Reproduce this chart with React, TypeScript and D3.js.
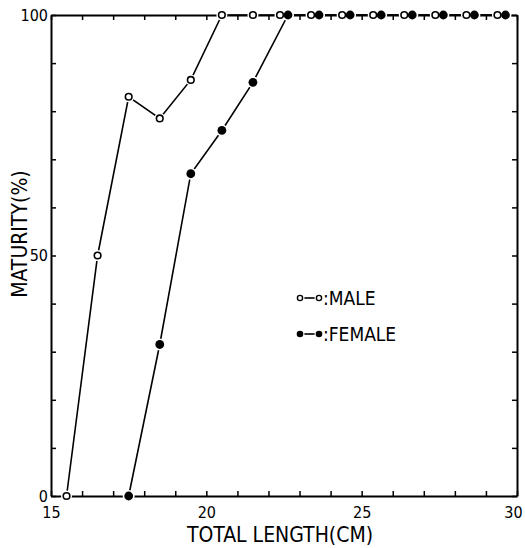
import { useEffect, useRef } from "react"
import * as d3 from "d3"

// male maturity by total length
const maleLength = [15.5, 16.5, 17.5, 18.5, 19.5, 20.5, 21.5, 22.5, 23.5, 24.5, 25.5, 26.5, 27.5, 28.5, 29.5]
const maleMaturity = [0, 50, 83, 78.5, 86.5, 100, 100, 100, 100, 100, 100, 100, 100, 100, 100]

// female maturity by total length
const femaleLength = [17.5, 18.5, 19.5, 20.5, 21.5, 22.5, 23.5, 24.5, 25.5, 26.5, 27.5, 28.5, 29.5]
const femaleMaturity = [0, 31.5, 67, 76, 86, 100, 100, 100, 100, 100, 100, 100, 100]

const xTicks = d3.range(15, 31, 1)
const xLabels = [15, 20, 25, 30]
const yTicks = d3.range(0, 101, 10)
const yLabels = [0, 50, 100]

const FONT = "'DejaVu Sans Condensed', 'Liberation Sans Narrow', sans-serif"

const Chart = ({
  svgWidth = 525,
  svgHeight = 548,
  left = 51,
  right = 517,
  top = 15,
  bottom = 496,
}) => {
  const svgRef = useRef(null)

  useEffect(() => {
    const svg = d3.select(svgRef.current)
      .attr("viewBox", [0, 0, svgWidth, svgHeight])
      .attr("font-family", FONT)
    svg.selectAll("*").remove()

    const x = d3.scaleLinear().domain([15, 30]).range([left, right])
    const y = d3.scaleLinear().domain([0, 100]).range([bottom, top])

    const male = maleLength.map((l, i) => ({ l, m: maleMaturity[i] }))
    const female = femaleLength.map((l, i) => ({ l, m: femaleMaturity[i] }))

    // dodge points that overlap at 100%
    const both = (l) => maleLength.includes(l) && femaleLength.includes(l) &&
      maleMaturity[maleLength.indexOf(l)] === 100 && femaleMaturity[femaleLength.indexOf(l)] === 100
    const mx = d => x(d.l) - (both(d.l) ? 4 : 0)
    const fx = d => x(d.l) + (both(d.l) ? 4 : 0)

    const styleAxis = g => g
      .call(g => g.select(".domain").attr("stroke-width", 2))
      .call(g => g.selectAll(".tick line").attr("stroke-width", 1.5))
      .call(g => g.selectAll("text").attr("font-size", 16).attr("font-family", FONT).attr("fill", "#000"))

    // bottom axis
    svg.append("g")
      .attr("transform", `translate(0,${bottom})`)
      .call(d3.axisBottom(x).tickValues(xTicks).tickSizeInner(-5).tickSizeOuter(0).tickPadding(11)
        .tickFormat(d => xLabels.includes(d) ? String(d) : ""))
      .call(styleAxis)
      .call(g => g.selectAll(".tick text").filter(d => d === 30).attr("dx", -4))

    // top axis
    svg.append("g")
      .attr("transform", `translate(0,${top})`)
      .call(d3.axisTop(x).tickValues(xTicks).tickSizeInner(-5).tickSizeOuter(0).tickFormat(() => ""))
      .call(styleAxis)

    // left axis
    svg.append("g")
      .attr("transform", `translate(${left},0)`)
      .call(d3.axisLeft(y).tickValues(yTicks).tickSizeInner(-5).tickSizeOuter(0).tickPadding(3)
        .tickFormat(d => yLabels.includes(d) ? String(d) : ""))
      .call(styleAxis)

    // right axis
    svg.append("g")
      .attr("transform", `translate(${right},0)`)
      .call(d3.axisRight(y).tickValues(yTicks).tickSizeInner(-5).tickSizeOuter(0).tickFormat(() => ""))
      .call(styleAxis)

    const line = (fx0) => d3.line().x(fx0).y(d => y(d.m))

    svg.append("path")
      .datum(male)
      .attr("fill", "none").attr("stroke", "#000").attr("stroke-width", 1.6)
      .attr("d", line(mx))

    svg.append("path")
      .datum(female)
      .attr("fill", "none").attr("stroke", "#000").attr("stroke-width", 1.6)
      .attr("d", line(fx))

    // gaps around markers
    svg.append("g").attr("fill", "#fff")
      .selectAll("circle").data(male).join("circle")
      .attr("cx", mx).attr("cy", d => y(d.m)).attr("r", 5.5)
    svg.append("g").attr("fill", "#fff")
      .selectAll("circle").data(female).join("circle")
      .attr("cx", fx).attr("cy", d => y(d.m)).attr("r", 6)

    // markers
    svg.append("g").attr("fill", "#fff").attr("stroke", "#000").attr("stroke-width", 1.6)
      .selectAll("circle").data(male).join("circle")
      .attr("cx", mx).attr("cy", d => y(d.m)).attr("r", 3.3)
    svg.append("g").attr("fill", "#000")
      .selectAll("circle").data(female).join("circle")
      .attr("cx", fx).attr("cy", d => y(d.m)).attr("r", 4.4)

    // axis titles
    svg.append("text")
      .attr("x", 280).attr("y", 542)
      .attr("text-anchor", "middle").attr("font-size", 21)
      .text("TOTAL LENGTH(CM)")
    svg.append("text")
      .attr("transform", `translate(27,234) rotate(-90)`)
      .attr("text-anchor", "middle").attr("font-size", 21)
      .text("MATURITY(%)")

    // legend
    const legend = [
      { label: ":MALE", filled: false, cy: 298 },
      { label: ":FEMALE", filled: true, cy: 334 },
    ]
    const lg = svg.append("g").selectAll("g").data(legend).join("g")
    lg.append("line")
      .attr("x1", 300).attr("x2", 319).attr("y1", d => d.cy).attr("y2", d => d.cy)
      .attr("stroke", "#000").attr("stroke-width", 1.6)
    lg.selectAll("circle.bg").data(d => [300, 319].map(cx => ({ cx, ...d }))).join("circle")
      .attr("cx", d => d.cx).attr("cy", d => d.cy).attr("r", 4.5).attr("fill", "#fff")
    lg.selectAll("circle.m").data(d => [300, 319].map(cx => ({ cx, ...d }))).join("circle")
      .attr("cx", d => d.cx).attr("cy", d => d.cy)
      .attr("r", d => d.filled ? 3.3 : 2.6)
      .attr("fill", d => d.filled ? "#000" : "#fff")
      .attr("stroke", d => d.filled ? "none" : "#000").attr("stroke-width", 1.4)
    lg.append("text")
      .attr("x", 323).attr("y", d => d.cy).attr("dy", "0.36em")
      .attr("font-size", 19)
      .text(d => d.label)
  }, [svgWidth, svgHeight, left, right, top, bottom])

  return <svg ref={svgRef} width={svgWidth} height={svgHeight}
    style={{ position: "absolute", left: 0, top: 0, background: "#fff" }} />
}

export default function App() {
  return <Chart />
}
